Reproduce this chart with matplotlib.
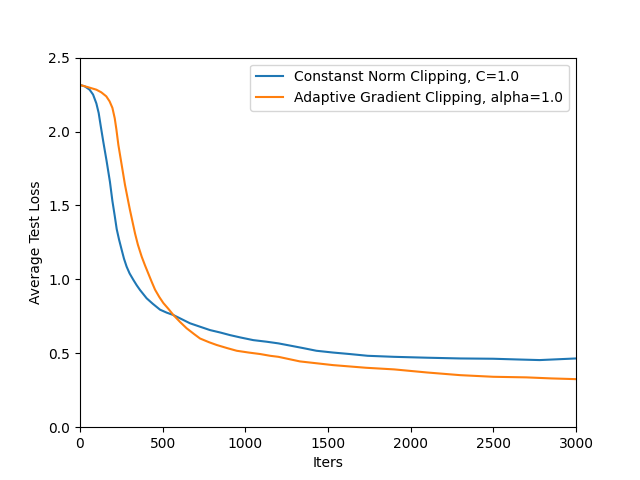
import matplotlib
matplotlib.use("Agg")
import matplotlib.pyplot as plt

const_iters = [0, 28, 58, 79, 99, 113, 125, 141, 161, 181, 196, 210, 222, 236, 252, 266,
               282, 300, 323, 343, 363, 383, 403, 440, 484, 524, 564, 620, 665, 720, 786,
               850, 907, 970, 1048, 1130, 1200, 1280, 1350, 1430, 1530, 1630, 1740, 1900,
               2100, 2300, 2500, 2650, 2780, 2900, 3000]
const_loss = [2.315, 2.306, 2.283, 2.25, 2.19, 2.125, 2.04, 1.93, 1.80, 1.66, 1.53, 1.43,
              1.34, 1.27, 1.20, 1.14, 1.086, 1.04, 0.996, 0.96, 0.928, 0.90, 0.872, 0.835,
              0.795, 0.775, 0.759, 0.728, 0.703, 0.682, 0.657, 0.64, 0.623, 0.607, 0.589,
              0.578, 0.567, 0.55, 0.535, 0.517, 0.505, 0.495, 0.483, 0.476, 0.47, 0.465,
              0.463, 0.458, 0.454, 0.46, 0.465]

adapt_iters = [0, 48, 99, 129, 159, 179, 196, 210, 220, 232, 252, 272, 292, 302, 333,
               350, 373, 393, 413, 433, 454, 480, 504, 535, 564, 605, 645, 690, 726, 780,
               827, 890, 948, 1020, 1089, 1150, 1200, 1330, 1530, 1730, 1900, 2100, 2300,
               2500, 2700, 2850, 3000]
adapt_loss = [2.315, 2.30, 2.283, 2.265, 2.238, 2.204, 2.16, 2.09, 2.015, 1.91, 1.775,
              1.64, 1.526, 1.47, 1.31, 1.235, 1.154, 1.095, 1.04, 0.985, 0.93, 0.88, 0.84,
              0.80, 0.76, 0.712, 0.669, 0.63, 0.60, 0.575, 0.556, 0.535, 0.517, 0.505,
              0.495, 0.483, 0.476, 0.445, 0.42, 0.402, 0.391, 0.37, 0.352, 0.341, 0.337,
              0.33, 0.325]

fig, ax = plt.subplots(figsize=(6.4, 4.8), dpi=100)
ax.plot(const_iters, const_loss, color="#1f77b4", label="Constanst Norm Clipping, C=1.0")
ax.plot(adapt_iters, adapt_loss, color="#ff7f0e", label="Adaptive Gradient Clipping, alpha=1.0")
ax.set_xlim(0, 3000)
ax.set_ylim(0, 2.5)
ax.set_xlabel("Iters")
ax.set_ylabel("Average Test Loss")
ax.legend(loc="upper right")
fig.savefig("out.png", dpi=100)
